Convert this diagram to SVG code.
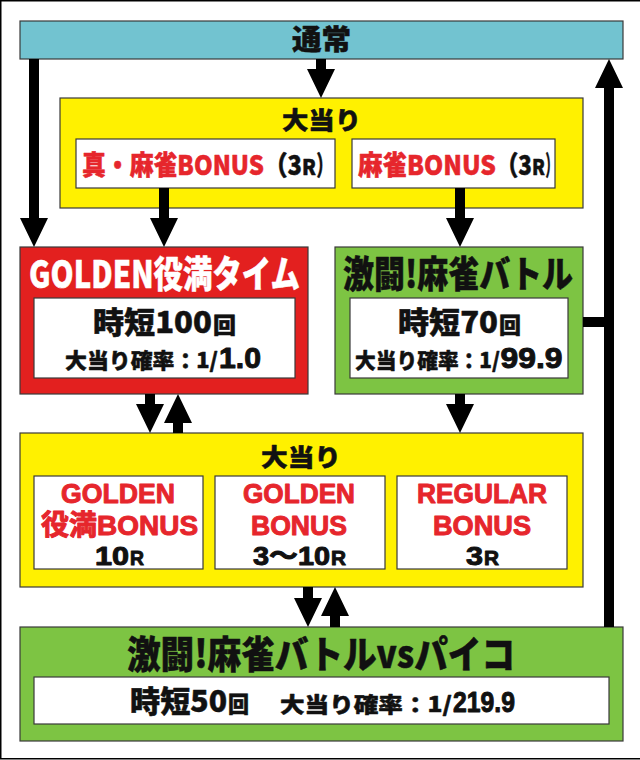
<svg xmlns="http://www.w3.org/2000/svg" width="640" height="760" viewBox="0 0 640 760">
<style>
.box{stroke:#3a3a3a;stroke-width:1.2}
.cyan{fill:#72C3D0}
.yel{fill:#FFF100}
.red{fill:#E3201F}
.grn{fill:#7DC443}
.wht{fill:#FFFFFF}
text{font-family:"Noto Sans CJK JP","Noto Sans",sans-serif;font-weight:900;stroke-width:0.5;stroke-linejoin:round}
text.lat{font-family:"Liberation Sans","Noto Sans CJK JP",sans-serif;font-weight:bold;stroke-width:1}
.k{fill:#111;stroke:#111}
.r{fill:#E6262C;stroke:#E6262C}
.w{fill:#FFFFFF;stroke:#FFFFFF}
.arr{fill:#000}
</style>
<rect x="0.75" y="0.75" width="660" height="758" fill="#fff" stroke="#000" stroke-width="1.5"/>

<g id="normal">
<rect class="box cyan" x="20" y="21" width="603" height="38"/>
<text class="k" x="292" y="50" font-size="28" textLength="59" lengthAdjust="spacingAndGlyphs">通常</text>
</g>

<g id="jackpot1">
<rect class="box yel" x="60" y="98" width="523" height="110"/>
<text class="k" x="282" y="129" font-size="24" textLength="79" lengthAdjust="spacingAndGlyphs">大当り</text>
</g>
<g id="shin-mahjong-bonus">
<rect class="box wht" x="76" y="139" width="259" height="49"/>
<text class="r" transform="translate(82,175) scale(0.88,1)" font-size="27" textLength="206.8" lengthAdjust="spacingAndGlyphs">真・麻雀BONUS</text>
<text class="k" transform="translate(264,175) scale(0.86,1)" font-size="27" textLength="44.2" lengthAdjust="spacingAndGlyphs">（3</text>
<text class="k" transform="translate(302,175) scale(0.95,1)" font-size="21" textLength="14.7" lengthAdjust="spacingAndGlyphs">R</text>
<text class="k" transform="translate(316.5,175) scale(0.57,1)" font-size="27" textLength="28.1" lengthAdjust="spacingAndGlyphs">）</text>
</g>
<g id="mahjong-bonus">
<rect class="box wht" x="352" y="139" width="203" height="49"/>
<text class="r" transform="translate(358,175) scale(0.91,1)" font-size="27" textLength="151.6" lengthAdjust="spacingAndGlyphs">麻雀BONUS</text>
<text class="k" transform="translate(496,175) scale(0.82,1)" font-size="27" textLength="43.9" lengthAdjust="spacingAndGlyphs">（3</text>
<text class="k" transform="translate(532,175) scale(0.92,1)" font-size="21" textLength="14.1" lengthAdjust="spacingAndGlyphs">R</text>
<text class="k" transform="translate(545.5,175) scale(0.43,1)" font-size="27" textLength="27.9" lengthAdjust="spacingAndGlyphs">）</text>
</g>

<g id="golden-time">
<rect class="box red" x="20" y="247" width="288" height="147"/>
<text class="w" transform="translate(29,288) scale(0.79,1)" font-size="37" textLength="343" lengthAdjust="spacingAndGlyphs">GOLDEN役満タイム</text>
<rect class="box wht" x="34" y="298" width="261" height="80"/>
<text class="k" x="93" y="333" font-size="30" textLength="119" lengthAdjust="spacingAndGlyphs">時短100</text>
<text class="k" x="213" y="333" font-size="22" textLength="23" lengthAdjust="spacingAndGlyphs">回</text>
<text class="k" x="65" y="368" font-size="21" textLength="153" lengthAdjust="spacingAndGlyphs">大当り確率：1/</text>
<text class="k lat" x="219" y="368" font-size="30" textLength="42" lengthAdjust="spacingAndGlyphs">1.0</text>
</g>

<g id="battle">
<rect class="box grn" x="335" y="247" width="248" height="147"/>
<text class="k" transform="translate(343,288) scale(0.82,1)" font-size="37" textLength="280.5" lengthAdjust="spacingAndGlyphs">激闘!麻雀バトル</text>
<rect class="box wht" x="350" y="298" width="218" height="80"/>
<text class="k" x="398" y="333" font-size="30" textLength="100" lengthAdjust="spacingAndGlyphs">時短70</text>
<text class="k" x="499" y="333" font-size="22" textLength="22" lengthAdjust="spacingAndGlyphs">回</text>
<text class="k" transform="translate(355,368) scale(0.96,1)" font-size="21" textLength="151" lengthAdjust="spacingAndGlyphs">大当り確率：1/</text>
<text class="k lat" x="500.5" y="368" font-size="30" textLength="62" lengthAdjust="spacingAndGlyphs">99.9</text>
</g>

<g id="jackpot2">
<rect class="box yel" x="20" y="433" width="563" height="154"/>
<text class="k" x="261" y="466" font-size="24" textLength="80" lengthAdjust="spacingAndGlyphs">大当り</text>
</g>
<g id="golden-yakuman-bonus">
<rect class="box wht" x="34" y="476" width="169" height="93"/>
<text class="r lat" transform="translate(61,503) scale(0.93,1)" font-size="28" textLength="122.6" lengthAdjust="spacingAndGlyphs">GOLDEN</text>
<text class="r lat" transform="translate(41,534.5) scale(0.97,1)" font-size="28" textLength="161.9" lengthAdjust="spacingAndGlyphs">役満BONUS</text>
<text class="k lat" x="95" y="564.5" font-size="26" textLength="34" lengthAdjust="spacingAndGlyphs">10</text>
<text class="k lat" transform="translate(130,564.5) scale(0.89,1)" font-size="21" textLength="15.7" lengthAdjust="spacingAndGlyphs">R</text>
</g>
<g id="golden-bonus">
<rect class="box wht" x="215" y="476" width="170" height="93"/>
<text class="r lat" transform="translate(243,503) scale(0.91,1)" font-size="28" textLength="123.1" lengthAdjust="spacingAndGlyphs">GOLDEN</text>
<text class="r lat" transform="translate(251,534.5) scale(0.92,1)" font-size="28" textLength="104.3" lengthAdjust="spacingAndGlyphs">BONUS</text>
<text class="k lat" x="253" y="564.5" font-size="26" textLength="77" lengthAdjust="spacingAndGlyphs">3～10</text>
<text class="k lat" transform="translate(331,564.5) scale(0.95,1)" font-size="21" textLength="15.8" lengthAdjust="spacingAndGlyphs">R</text>
</g>
<g id="regular-bonus">
<rect class="box wht" x="397" y="476" width="170" height="93"/>
<text class="r lat" transform="translate(417,503) scale(0.91,1)" font-size="28" textLength="142.9" lengthAdjust="spacingAndGlyphs">REGULAR</text>
<text class="r lat" transform="translate(433,534.5) scale(0.94,1)" font-size="28" textLength="104.3" lengthAdjust="spacingAndGlyphs">BONUS</text>
<text class="k lat" x="466" y="564.5" font-size="26" textLength="17" lengthAdjust="spacingAndGlyphs">3</text>
<text class="k lat" transform="translate(484,564.5) scale(0.95,1)" font-size="21" textLength="15.8" lengthAdjust="spacingAndGlyphs">R</text>
</g>

<g id="battle-vs-paiko">
<rect class="box grn" x="20" y="627" width="603" height="114"/>
<text class="k" transform="translate(127,668) scale(0.88,1)" font-size="38" textLength="440.9" lengthAdjust="spacingAndGlyphs">激闘!麻雀バトルvsパイコ</text>
<rect class="box wht" x="34" y="677" width="575" height="47"/>
<text class="k" x="130" y="712" font-size="30" textLength="97" lengthAdjust="spacingAndGlyphs">時短50</text>
<text class="k" transform="translate(228,712) scale(0.93,1)" font-size="22" textLength="22.6" lengthAdjust="spacingAndGlyphs">回</text>
<text class="k" x="280" y="712" font-size="21" textLength="172" lengthAdjust="spacingAndGlyphs">大当り確率：1/</text>
<text class="k lat" transform="translate(453,712) scale(0.81,1)" font-size="30" textLength="76.5" lengthAdjust="spacingAndGlyphs">219.9</text>
</g>

<g id="connectors" class="arr">
<path d="M316,59 H326 V69 H335 L321,98 L307,69 H316 Z"/>
<path d="M29,59 H39 V218 H48 L34,247 L20,218 H29 Z"/>
<path d="M159,188 H169 V218 H178 L164,247 L150,218 H159 Z"/>
<path d="M455,188 H465 V218 H474 L460,247 L446,218 H455 Z"/>
<path d="M145,394 H155 V404 H164 L150,433 L136,404 H145 Z"/>
<path d="M173,433 H183 V423 H192 L178,394 L164,423 H173 Z"/>
<path d="M455,394 H465 V404 H474 L460,433 L446,404 H455 Z"/>
<path d="M303,587 H313 V598 H322 L308,627 L294,598 H303 Z"/>
<path d="M330,627 H340 V616 H349 L335,587 L321,616 H330 Z"/>
<path d="M604,627 H614 V88 H623 L609,59 L595,88 H604 Z"/>
<rect x="583" y="317" width="22" height="10"/>
</g>
</svg>
